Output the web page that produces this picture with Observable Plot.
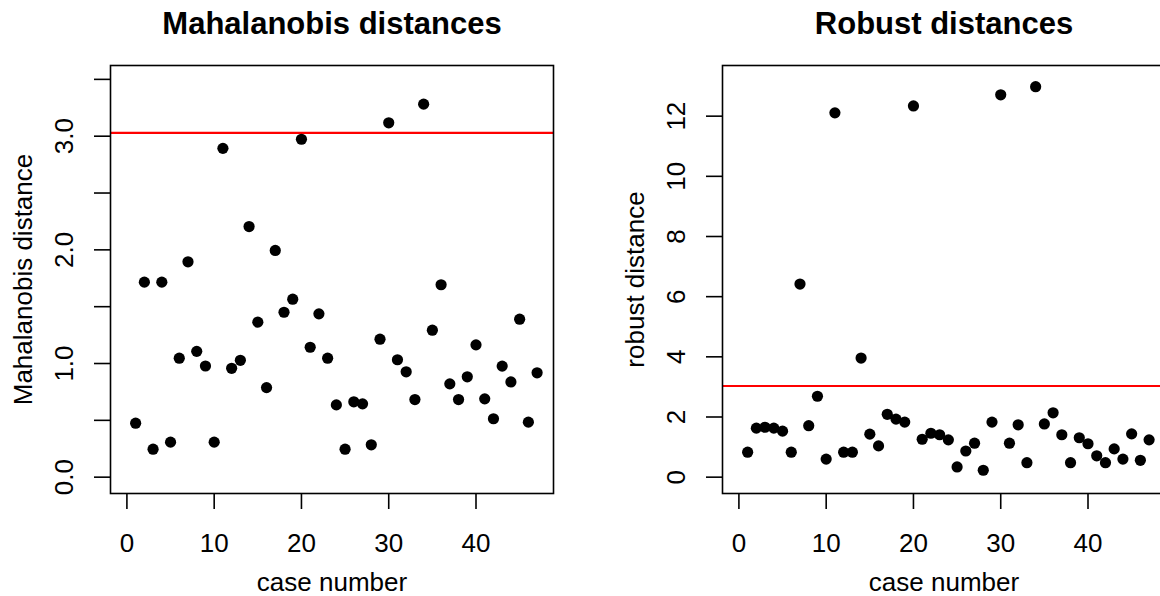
<!DOCTYPE html>
<html><head><meta charset="utf-8">
<script src="https://cdn.jsdelivr.net/npm/d3@7"></script>
<script src="https://cdn.jsdelivr.net/npm/@observablehq/plot@0.6"></script>
<style>
html,body{margin:0;padding:0;background:#fff;}
#wrap{position:relative;width:1160px;height:596px;overflow:hidden;background:#fff;}
.panel{position:absolute;top:0;width:580px;height:596px;}
.panel svg{max-width:none !important;width:580px !important;height:596px !important;}
</style></head><body><div id="wrap"></div>
<script>
const caseNumber = [1,2,3,4,5,6,7,8,9,10,11,12,13,14,15,16,17,18,19,20,21,22,23,24,25,26,27,28,29,30,31,32,33,34,35,36,37,38,39,40,41,42,43,44,45,46,47];
const mahalanobis = [0.475,1.716,0.246,1.716,0.308,1.047,1.895,1.107,0.978,0.308,2.893,0.958,1.028,2.205,1.364,0.788,1.995,1.451,1.566,2.973,1.143,1.437,1.047,0.636,0.246,0.663,0.645,0.285,1.214,3.118,1.033,0.927,0.683,3.282,1.293,1.693,0.821,0.683,0.883,1.164,0.689,0.514,0.977,0.838,1.390,0.484,0.918];
const robust = [0.83,1.63,1.66,1.63,1.53,0.83,6.42,1.71,2.69,0.60,12.11,0.83,0.83,3.96,1.43,1.04,2.09,1.93,1.83,12.34,1.26,1.46,1.41,1.24,0.34,0.87,1.13,0.23,1.83,12.71,1.13,1.74,0.48,12.98,1.77,2.14,1.41,0.48,1.31,1.11,0.71,0.48,0.94,0.60,1.44,0.56,1.24];
const cutoff = 3.03;
const xTicks = [0,10,20,30,40];
const yTicksMaha = [0,0.5,1,1.5,2,2.5,3,3.5];
const yTicksRobust = [0,2,4,6,8,10,12];
const titles = ["Mahalanobis distances", "Robust distances"];
const yLabels = ["Mahalanobis distance", "robust distance"];
const xLabel = "case number";

const FONT = "'Liberation Sans', Arial, Helvetica, sans-serif";
const FS = 26;

function panel(values, title, ylabel, yDomain, yTicks, yFormat) {
  const data = caseNumber.map((c, i) => ({case: c, value: values[i]}));
  return Plot.plot({
    width: 580, height: 596,
    marginLeft: 110, marginRight: 27, marginTop: 65, marginBottom: 103,
    style: {fontFamily: FONT, fontSize: FS + "px", background: "white", overflow: "visible", color: "black", maxWidth: "none"},
    x: {domain: [-1.88, 48.88]},
    y: {domain: yDomain},
    marks: [
      Plot.ruleY([cutoff], {stroke: "#ff0000", strokeWidth: 2.2}),
      Plot.frame({stroke: "black", strokeWidth: 1.6}),
      Plot.axisX({ticks: xTicks, tickSize: 16, tickPadding: 24.2, fontSize: FS, strokeWidth: 1.6, label: null}),
      Plot.axisY({ticks: yTicks, tickSize: 16, tickPadding: 21.3, tickRotate: -90, tickFormat: yFormat, fontSize: FS, strokeWidth: 1.6, label: null}),
      Plot.dot(data, {x: "case", y: "value", r: 5.6, fill: "black", stroke: null}),
      Plot.text([title], {text: d => d, frameAnchor: "top", dy: -31.7, textAnchor: "middle", lineAnchor: "bottom", fontSize: 31, fontWeight: "bold"}),
      Plot.text([ylabel], {text: d => d, frameAnchor: "left", dx: -78.3, rotate: -90, textAnchor: "middle", lineAnchor: "bottom", fontSize: FS}),
      Plot.text([xLabel], {text: d => d, frameAnchor: "bottom", dy: 97, textAnchor: "middle", lineAnchor: "bottom", fontSize: FS})
    ]
  });
}

const wrap = document.getElementById("wrap");
const left = document.createElement("div"); left.className = "panel"; left.style.left = "0px";
left.appendChild(panel(mahalanobis, titles[0], yLabels[0], [-0.1437, 3.622], yTicksMaha, d => (Number.isInteger(d) ? d.toFixed(1) : "")));
const right = document.createElement("div"); right.className = "panel"; right.style.left = "612.3px";
right.appendChild(panel(robust, titles[1], yLabels[1], [-0.543, 13.684], yTicksRobust, d => String(d)));
wrap.appendChild(left); wrap.appendChild(right);
</script></body></html>
